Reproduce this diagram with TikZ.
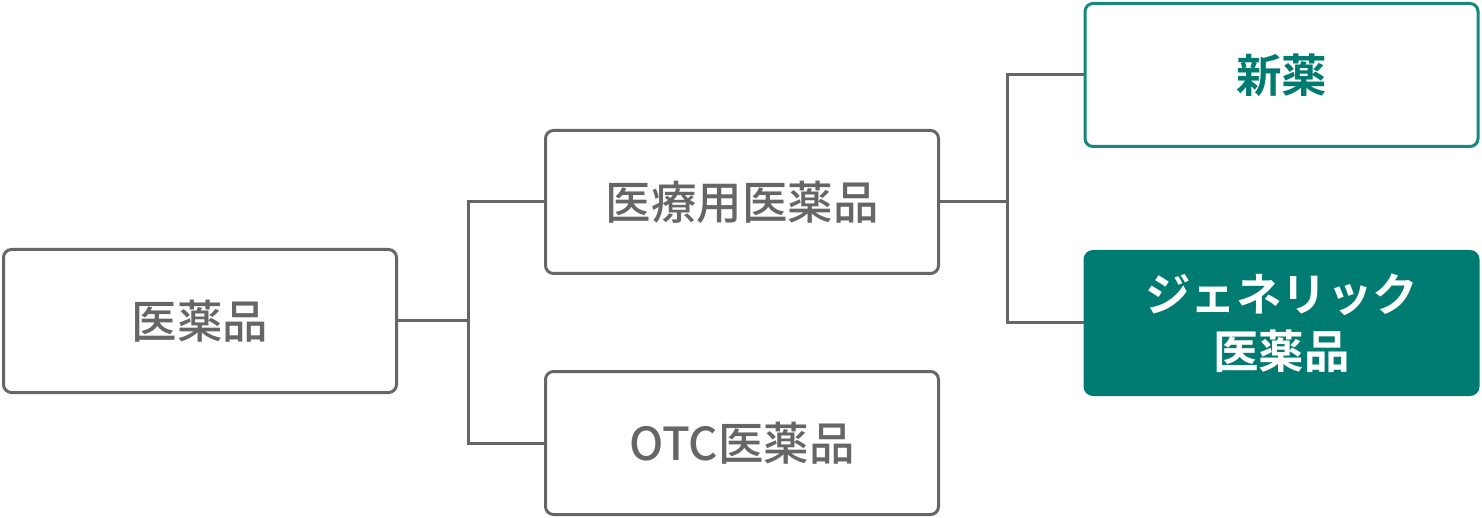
\documentclass[tikz,border=0pt]{standalone}
\usepackage{fontspec}
\newfontfamily\jp{Noto Sans CJK JP Medium}
\newfontfamily\jpb{Noto Sans CJK JP Bold}
\definecolor{gr}{HTML}{666666}
\definecolor{tl}{HTML}{007B72}
\definecolor{tlb}{HTML}{15897E}
\begin{document}
\begin{tikzpicture}[x=1pt,y=-1pt,
  box/.style={draw=gr,line width=3pt,rounded corners=8pt,minimum width=393pt,minimum height=143pt,inner sep=0pt,fill=white,text=gr,font=\jp\fontsize{45.5}{56}\selectfont,align=center},
  newbox/.style={box,draw=tlb,text=tl,font=\jpb\fontsize{45.5}{56}\selectfont},
  genbox/.style={box,draw=tl,fill=tl,text=white,font=\jpb\fontsize{45.5}{57}\selectfont},
  conn/.style={draw=gr,line width=3pt}]
\useasboundingbox (0,0) rectangle (1482,518);
\node[box] (a) at (200,321) {医薬品};
\node[box] (b) at (742,202) {医療用医薬品};
\node[box] (c) at (742,443) {OTC医薬品};
\node[newbox] (d) at (1281.5,75) {新薬};
\node[genbox] (e) at (1281.5,323) {ジェネリック\\医薬品};
\coordinate (j1) at (468,321);
\coordinate (j2) at (1007,202);
\draw[conn] (a.east) -- (j1);
\draw[conn] (b.west) -| (j1) |- (c.west);
\draw[conn] (b.east) -- (j2);
\draw[conn] (d.west) -| (j2) |- (e.west);
\end{tikzpicture}
\end{document}
